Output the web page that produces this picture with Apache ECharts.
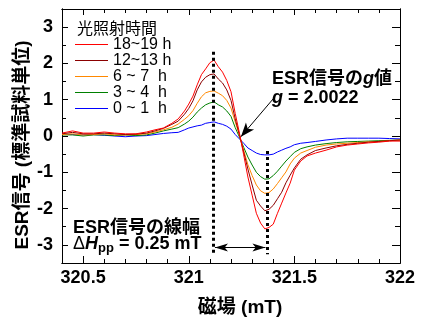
<!DOCTYPE html>
<html>
<head>
<meta charset="utf-8">
<script src="https://cdn.jsdelivr.net/npm/echarts@6/dist/echarts.min.js"></script>
<style>html,body{margin:0;padding:0;background:#fff;}#c{width:425px;height:322px;}</style>
</head>
<body>
<div id="c"></div>
<script>
// ---- data ----
const fields = [320.40, 320.45, 320.50, 320.55, 320.60, 320.65, 320.70, 320.75, 320.80, 320.84,
  320.88, 320.92, 320.95, 320.98, 321.00, 321.02, 321.04, 321.06, 321.08, 321.10,
  321.12, 321.14, 321.16, 321.18, 321.20, 321.22, 321.24, 321.26, 321.28, 321.30,
  321.32, 321.34, 321.36, 321.38, 321.40, 321.42, 321.44, 321.46, 321.48, 321.50,
  321.53, 321.56, 321.60, 321.65, 321.70, 321.75, 321.80, 321.85, 321.90, 321.95, 322.00];
const h18 = [0.08, 0.14, 0.08, 0.08, 0.11, 0.08, 0.06, 0.06, 0.11, 0.17,
  0.22, 0.35, 0.47, 0.69, 0.88, 1.10, 1.41, 1.69, 1.85, 2.02,
  2.09, 1.91, 1.76, 1.53, 1.22, 0.62, 0.08, -0.52, -1.13, -1.63,
  -2.13, -2.40, -2.56, -2.52, -2.43, -2.13, -1.85, -1.57, -1.30, -0.94,
  -0.69, -0.55, -0.47, -0.39, -0.30, -0.25, -0.22, -0.19, -0.17, -0.14, -0.14];
const h12 = [0.06, 0.10, 0.06, 0.06, 0.08, 0.06, 0.04, 0.05, 0.08, 0.14,
  0.21, 0.32, 0.41, 0.60, 0.76, 0.97, 1.27, 1.49, 1.62, 1.69,
  1.71, 1.57, 1.46, 1.27, 0.98, 0.47, 0.03, -0.44, -0.91, -1.35,
  -1.77, -1.93, -2.06, -2.02, -1.91, -1.73, -1.55, -1.29, -1.08, -0.88,
  -0.64, -0.52, -0.40, -0.33, -0.27, -0.23, -0.20, -0.17, -0.15, -0.13, -0.11];
const h6 = [0.04, 0.06, 0.03, 0.04, 0.06, 0.03, 0.03, 0.04, 0.06, 0.11,
  0.17, 0.24, 0.33, 0.46, 0.56, 0.70, 0.90, 1.08, 1.19, 1.23,
  1.24, 1.18, 1.11, 0.98, 0.77, 0.39, 0.02, -0.39, -0.79, -1.09,
  -1.35, -1.51, -1.58, -1.56, -1.46, -1.31, -1.15, -0.99, -0.77, -0.61,
  -0.47, -0.40, -0.31, -0.25, -0.22, -0.20, -0.18, -0.16, -0.15, -0.13, -0.11];
const h3 = [0.03, 0.03, 0.00, 0.03, 0.03, 0.01, 0.03, 0.01, 0.03, 0.08,
  0.14, 0.19, 0.23, 0.33, 0.41, 0.52, 0.66, 0.77, 0.86, 0.91,
  0.94, 0.86, 0.80, 0.69, 0.54, 0.23, -0.03, -0.31, -0.58, -0.80,
  -1.00, -1.12, -1.19, -1.18, -1.09, -0.97, -0.83, -0.69, -0.57, -0.45,
  -0.35, -0.30, -0.25, -0.21, -0.18, -0.16, -0.15, -0.14, -0.13, -0.12, -0.11];
const h0 = [0.05, 0.04, 0.03, 0.04, 0.02, 0.00, -0.02, 0.00, 0.01, 0.04,
  0.07, 0.09, 0.10, 0.17, 0.22, 0.25, 0.28, 0.30, 0.35, 0.37,
  0.39, 0.35, 0.32, 0.27, 0.19, 0.04, -0.08, -0.20, -0.33, -0.40,
  -0.47, -0.51, -0.52, -0.52, -0.50, -0.44, -0.39, -0.34, -0.30, -0.24,
  -0.20, -0.18, -0.15, -0.11, -0.08, -0.06, -0.06, -0.06, -0.06, -0.07, -0.08];
const seriesNames = ['18~19 h', '12~13 h', '6 ~ 7  h', '3 ~ 4  h', '0 ~ 1  h'];
const seriesColors = ['#ff0000', '#8b0000', '#ff8800', '#008000', '#0000ff'];
const seriesValues = [h18, h12, h6, h3, h0];
const xMajor = [320.5, 321, 321.5, 322];
const xMinor = [320.4, 320.6, 320.7, 320.8, 320.9, 321.1, 321.2, 321.3, 321.4, 321.6, 321.7, 321.8, 321.9];
const yMajor = [-3, -2, -1, 0, 1, 2, 3];
const yMinor = [-3.5, -2.5, -1.5, -0.5, 0.5, 1.5, 2.5, 3.5];
// annotation anchors (data coordinates)
const peakField = 321.117, troughField = 321.370;
const peakLineTop = 2.32, troughLineTop = -0.41, guideBottom = -3.26;
const widthArrow = {from: 321.124, to: 321.363, y: -3.07};
const gArrow = {from: [321.402, 1.04], to: [321.247, -0.02]};

// ---- chart ----
const LAT = "'Liberation Sans', 'Noto Sans CJK JP', sans-serif";
const chart = echarts.init(document.getElementById('c'), null, {renderer: 'canvas'});

function xAx(pos, ticks, len, labels) {
  return {
    type: 'value', position: pos, min: 320.4, max: 322,
    axisLine: {show: true, onZero: false, lineStyle: {color: '#000', width: 1}},
    axisTick: {show: true, inside: true, length: len, customValues: ticks, lineStyle: {color: '#000', width: 1}},
    axisLabel: {show: labels, customValues: xMajor, margin: 6, color: '#000', fontSize: 18, fontWeight: 'bold', fontFamily: LAT},
    splitLine: {show: false}
  };
}
function yAx(pos, ticks, len, labels) {
  return {
    type: 'value', position: pos, min: -3.5, max: 3.5,
    axisLine: {show: true, onZero: false, lineStyle: {color: '#000', width: 1}},
    axisTick: {show: true, inside: true, length: len, customValues: ticks, lineStyle: {color: '#000', width: 1}},
    axisLabel: {show: labels, customValues: yMajor, margin: 9, color: '#000', fontSize: 18, fontWeight: 'bold', fontFamily: LAT},
    splitLine: {show: false}
  };
}

const series = [];
for (let k = seriesNames.length - 1; k >= 0; k--) {
  series.push({
    name: seriesNames[k], type: 'line', xAxisIndex: 0, yAxisIndex: 0,
    data: fields.map((f, i) => [f, seriesValues[k][i]]),
    symbol: 'none', smooth: false,
    lineStyle: {color: seriesColors[k], width: 1},
    itemStyle: {color: seriesColors[k]}
  });
}
series.push({
  type: 'line', data: [], xAxisIndex: 0, yAxisIndex: 0, silent: true,
  markLine: {
    silent: true, animation: false, label: {show: false},
    data: [
      [{coord: [peakField, peakLineTop], symbol: 'none'}, {coord: [peakField, guideBottom], symbol: 'none'}],
      [{coord: [troughField, troughLineTop], symbol: 'none'}, {coord: [troughField, guideBottom], symbol: 'none'}]
    ],
    lineStyle: {color: '#000', width: 3, type: [3, 3]}
  }
});
series.push({
  type: 'line', data: [], xAxisIndex: 0, yAxisIndex: 0, silent: true,
  markLine: {
    silent: true, animation: false, label: {show: false},
    symbol: ['arrow', 'arrow'], symbolSize: [6, 13],
    data: [
      [{coord: [widthArrow.from, widthArrow.y]}, {coord: [widthArrow.to, widthArrow.y]}]
    ],
    lineStyle: {color: '#000', width: 1, type: 'solid'}
  }
});
series.push({
  type: 'line', data: [], xAxisIndex: 0, yAxisIndex: 0, silent: true,
  markLine: {
    silent: true, animation: false, label: {show: false},
    symbol: ['none', 'arrow'], symbolSize: [8, 14],
    data: [
      [{coord: gArrow.from}, {coord: gArrow.to}]
    ],
    lineStyle: {color: '#000', width: 1, type: 'solid'}
  }
});

const B = {fontSize: 18, fontWeight: 'bold', fontFamily: LAT, fill: '#000', color: '#000'};
function txt(x, y, text, rich, extra) {
  return Object.assign({
    type: 'text', x: x, y: y, silent: true,
    style: Object.assign({
      text: text, rich: rich,
      font: "bold 18px " + LAT, fill: '#000',
      align: 'left', verticalAlign: 'middle', textAlign: 'left', textVerticalAlign: 'middle'
    }, extra || {})
  });
}

const option = {
  animation: false,
  backgroundColor: '#fff',
  grid: {left: 62, right: 25, top: 9, bottom: 59, containLabel: false},
  xAxis: [xAx('bottom', xMajor, 7, true), xAx('bottom', xMinor, 4, false), xAx('top', xMajor, 6, false), xAx('top', xMinor, 4, false)],
  yAxis: [yAx('left', yMajor, 6, true), yAx('left', yMinor, 4, false), yAx('right', yMajor, 8, false), yAx('right', yMinor, 5, false)],
  legend: {
    data: seriesNames, orient: 'vertical', left: 75, top: 36.5, padding: 0,
    icon: 'rect', itemWidth: 33, itemHeight: 1, itemGap: 0, selectedMode: false,
    textStyle: {fontSize: 16, fontFamily: LAT, color: '#000', lineHeight: 16}
  },
  series: series,
  graphic: [
    {type: 'text', x: 77, y: 28, silent: true, style: {text: '光照射時間', font: "16px 'Noto Sans CJK JP', sans-serif", fill: '#000', align: 'left', verticalAlign: 'middle', textAlign: 'left', textVerticalAlign: 'middle'}},
    txt(272, 79, '{a|ESR信号の}{i|g}{a|値}', {a: B, i: Object.assign({}, B, {fontStyle: 'italic'})}),
    txt(272, 98, '{i|g}{a| = 2.0022}', {a: B, i: Object.assign({}, B, {fontStyle: 'italic'})}),
    txt(73, 228, 'ESR信号の線幅'),
    txt(73, 244, '{d|Δ}{h|H}{s|pp}{a| = 0.25 mT}', {
      d: {fontSize: 18, fontFamily: LAT, color: '#000'},
      h: Object.assign({}, B, {fontStyle: 'italic'}),
      s: {fontSize: 13, fontWeight: 'bold', fontFamily: LAT, color: '#000', padding: [9, 0, 0, 0]},
      a: B
    }),
    {type: 'text', x: 23, y: 145, rotation: Math.PI / 2, silent: true, style: {text: 'ESR信号 (標準試料単位)', font: "bold 19px " + LAT, fill: '#000', align: 'center', verticalAlign: 'middle', textAlign: 'center', textVerticalAlign: 'middle'}},
    {type: 'text', x: 240, y: 308, silent: true, style: {text: '磁場 (mT)', font: "bold 19px " + LAT, fill: '#000', align: 'center', verticalAlign: 'middle', textAlign: 'center', textVerticalAlign: 'middle'}}
  ]
};
chart.setOption(option);
</script>
</body>
</html>
